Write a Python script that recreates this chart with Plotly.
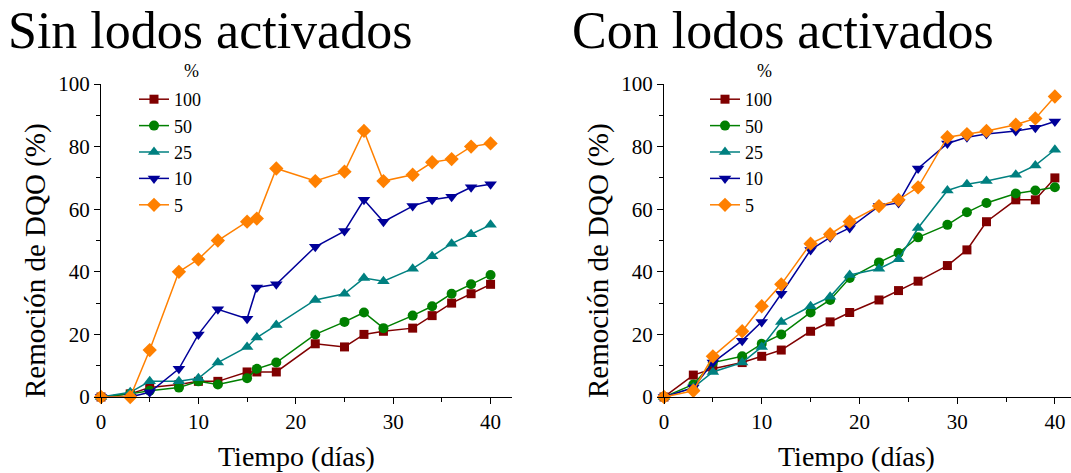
import plotly.graph_objects as go

# ---------------- data ----------------
series_names = ["100", "50", "25", "10", "5"]

days_sin = [0, 3, 5, 8, 10, 12, 15, 16, 18, 22, 25, 27, 29, 32, 34, 36, 38, 40]
sin_100 = [0, 1, 3, 4, 5, 5, 8, 8, 8, 17, 16, 20, 21, 22, 26, 30, 33, 36]
sin_50 = [0, 1, 2, 3, 5, 4, 6, 9, 11, 20, 24, 27, 22, 26, 29, 33, 36, 39]
sin_25 = [0, 1.5, 5, 5, 6, 11, 16, 19, 23, 31, 33, 38, 37, 41, 45, 49, 52, 55]
sin_10 = [0, 0, 1.5, 9, 20, 28, 25, 35, 36, 48, 53, 63, 56, 61, 63, 64, 67, 68]
sin_5 = [0, 0, 15, 40, 44, 50, 56, 57, 73, 69, 72, 85, 69, 71, 75, 76, 80, 81]

days_con = [0, 3, 5, 8, 10, 12, 15, 17, 19, 22, 24, 26, 29, 31, 33, 36, 38, 40]
con_100 = [0, 7, 9, 11, 13, 15, 21, 24, 27, 31, 34, 37, 42, 47, 56, 63, 63, 70]
con_50 = [0, 4, 11, 13, 17, 20, 27, 31, 38, 43, 46, 51, 55, 59, 62, 65, 66, 67]
con_25 = [0, 3, 8, 11, 16, 24, 29, 32, 39, 41, 44, 54, 66, 68, 69, 71, 74, 79]
con_10 = [0, 3, 11, 18, 24, 33, 47, 51, 54, 61, 62, 73, 81, 83, 84, 85, 86, 88]
con_5 = [0, 2, 13, 21, 29, 36, 49, 52, 56, 61, 63, 67, 83, 84, 85, 87, 89, 96]

panel_titles = ["Sin lodos activados", "Con lodos activados"]
x_title = "Tiempo (días)"
y_title = "Remoción de DQO (%)"
legend_title = "%"

# ---------------- styles ----------------
colors = ["#800000", "#008000", "#008080", "#000099", "#FF8000"]
symbols = ["square", "circle", "triangle-up", "triangle-down", "diamond"]
sizes = [9, 10, 11, 11, 11]
FONT = "Liberation Serif"

W, H = 1071, 473
def px(xp):
    return xp / W
def py(yp):
    return 1 - yp / H

fig = go.Figure()

panels = [
    (days_sin, [sin_100, sin_50, sin_25, sin_10, sin_5], "x", "y", "legend"),
    (days_con, [con_100, con_50, con_25, con_10, con_5], "x2", "y2", "legend2"),
]
for days, vals, xa, ya, leg in panels:
    for i, v in enumerate(vals):
        fig.add_trace(go.Scatter(
            x=days, y=v, mode="lines+markers", name=series_names[i],
            xaxis=xa, yaxis=ya, legend=leg, cliponaxis=False,
            line=dict(color=colors[i], width=1.5),
            marker=dict(symbol=symbols[i], size=sizes[i], color=colors[i],
                        line=dict(width=0)),
        ))

axis_common = dict(
    showline=True, linecolor="black", linewidth=1.3, mirror=False,
    ticks="outside", ticklen=6, tickwidth=1.3, tickcolor="black",
    showgrid=False, zeroline=False, automargin=False,
    tickfont=dict(family=FONT, size=21, color="black"),
)
minor_x = dict(dtick=5, ticks="outside", ticklen=4, tickcolor="black", showgrid=False)
minor_y = dict(dtick=10, ticks="outside", ticklen=4, tickcolor="black", showgrid=False)

y_dom = [py(397), py(84)]
legend_common = dict(xanchor="left", yanchor="top", bgcolor="rgba(0,0,0,0)",
                     borderwidth=0, tracegroupgap=0,
                     font=dict(family=FONT, size=18, color="black"))
fig.update_layout(
    width=W, height=H,
    margin=dict(l=0, r=0, t=0, b=0, pad=0, autoexpand=False),
    paper_bgcolor="white", plot_bgcolor="white",
    font=dict(family=FONT, color="black"),
    xaxis=dict(domain=[px(101), px(512)], range=[0, 42.2], dtick=10, tick0=0,
               minor=minor_x, anchor="y", **axis_common),
    yaxis=dict(domain=y_dom, range=[0, 100], dtick=20, tick0=0,
               minor=minor_y, anchor="x", **axis_common),
    xaxis2=dict(domain=[px(664), 1.0], range=[0, 41.65], dtick=10, tick0=0,
                minor=minor_x, anchor="y2", **axis_common),
    yaxis2=dict(domain=y_dom, range=[0, 100], dtick=20, tick0=0,
                minor=minor_y, anchor="x2", **axis_common),
    legend=dict(x=px(134), y=py(81), **legend_common),
    legend2=dict(x=px(705), y=py(81), **legend_common),
)

annotations = [
    dict(text=panel_titles[0], x=px(6), y=py(30), xanchor="left", yanchor="middle",
         font=dict(size=52)),
    dict(text=panel_titles[1], x=px(570), y=py(30), xanchor="left", yanchor="middle",
         font=dict(size=52)),
    dict(text=y_title, x=px(35), y=py(261), textangle=-90, xanchor="center", yanchor="middle",
         font=dict(size=29)),
    dict(text=y_title, x=px(598), y=py(261), textangle=-90, xanchor="center", yanchor="middle",
         font=dict(size=29)),
    dict(text=x_title, x=px(296), y=py(456), xanchor="center", yanchor="middle",
         font=dict(size=28)),
    dict(text=x_title, x=px(856), y=py(456), xanchor="center", yanchor="middle",
         font=dict(size=28)),
    dict(text=legend_title, x=px(191), y=py(71), xanchor="center", yanchor="middle",
         font=dict(size=18)),
    dict(text=legend_title, x=px(764), y=py(71), xanchor="center", yanchor="middle",
         font=dict(size=18)),
]
for a in annotations:
    a.update(xref="paper", yref="paper", showarrow=False)
    a["font"].update(family=FONT, color="black")
fig.update_layout(annotations=annotations)

fig.write_html("out.html")
